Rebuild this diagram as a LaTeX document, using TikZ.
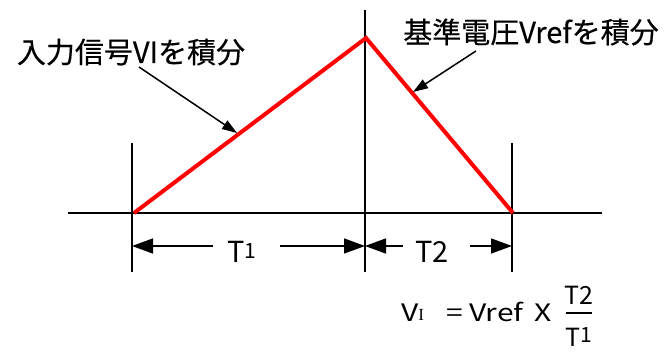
\documentclass[tikz,border=0pt]{standalone}
\usepackage{graphicx}
\usepackage{fontspec}
\setmainfont{Noto Sans CJK JP}
\newfontfamily\lblfont{Noto Sans CJK JP}[FakeBold=0.4]
\newfontfamily\serifI{Liberation Serif}
\usetikzlibrary{arrows.meta}
\newcommand{\smallone}{{\fontsize{21}{21}\selectfont\raisebox{4.5pt}{1}}}
\newcommand{\wide}[1]{\scalebox{1.25}[1]{#1}}
\begin{document}
\begin{tikzpicture}[x=1pt,y=-1pt,
  thinline/.style={line width=1.5pt, black},
  redline/.style={line width=4pt, red, line join=miter},
  dimarrow/.style={line width=1.5pt, -{Triangle[length=21pt,width=15pt]}},
  callout/.style={line width=1.5pt, -{Triangle[length=15pt,width=10pt]}},
  lbl/.style={inner sep=0pt, font=\lblfont\fontsize{29}{30}\selectfont},
  dimlbl/.style={inner sep=0pt, anchor=base, font=\fontsize{29}{30}\selectfont},
  fraclbl/.style={inner sep=0pt, anchor=base, font=\fontsize{25}{26}\selectfont},
  eqtxt/.style={inner sep=0pt, anchor=base west, font=\fontsize{24}{26}\selectfont},
]
\useasboundingbox (0,0) rectangle (669,352);
% axes and verticals
\coordinate (hl) at (68,213);  \coordinate (hr) at (602,213);
\coordinate (v1t) at (132,143); \coordinate (v1b) at (132,272);
\coordinate (v2t) at (365,10);  \coordinate (v2b) at (365,272);
\coordinate (v3t) at (512,143); \coordinate (v3b) at (512,272);
\draw[thinline] (hl) -- (hr);
\draw[thinline] (v1t) -- (v1b);
\draw[thinline] (v2t) -- (v2b);
\draw[thinline] (v3t) -- (v3b);
% red integration ramp
\coordinate (r0) at (134,213); \coordinate (rp) at (366,38); \coordinate (r1) at (513,213);
\draw[redline] (r0) -- (rp) -- (r1);
% callout labels
\node[lbl] (lab1) at (131,52) {入力信号VIを積分};
\node[lbl] (lab2) at (531,32) {基準電圧Vrefを積分};
\coordinate (c1s) at (139,67);  \coordinate (c1e) at (237,133);
\coordinate (c2s) at (476,51);  \coordinate (c2e) at (413,92);
\draw[callout] (c1s) -- (c1e);
\draw[callout] (c2s) -- (c2e);
% dimension arrows
\node[dimlbl] (T1) at (242,263) {T\smallone};
\node[dimlbl] (T2) at (432,263) {T2};
\coordinate (d1l) at (132,246); \coordinate (d1a) at (213,246);
\coordinate (d1b) at (280,246); \coordinate (d1r) at (365,246);
\coordinate (d2l) at (365,246); \coordinate (d2a) at (403,246);
\coordinate (d2b) at (470,246); \coordinate (d2r) at (512,246);
\draw[dimarrow] (d1a) -- (d1l);
\draw[dimarrow] (d1b) -- (d1r);
\draw[dimarrow] (d2a) -- (d2l);
\draw[dimarrow] (d2b) -- (d2r);
% formula
\node[eqtxt] (VI) at (401,322) {\wide{V}{\serifI\fontsize{17}{17}\selectfont\raisebox{1.5pt}{I}}};
\node[eqtxt] (eq) at (446,322) {\wide{=}};
\node[eqtxt] (vref) at (469,322) {\wide{Vref}};
\node[eqtxt] (X) at (534,322) {\wide{X}};
\node[fraclbl] (num) at (579,305) {T2};
\node[fraclbl] (den) at (579,347) {T\smallone};
\coordinate (fb1) at (566,313); \coordinate (fb2) at (592,313);
\draw[thinline] (fb1) -- (fb2);
\end{tikzpicture}
\end{document}
